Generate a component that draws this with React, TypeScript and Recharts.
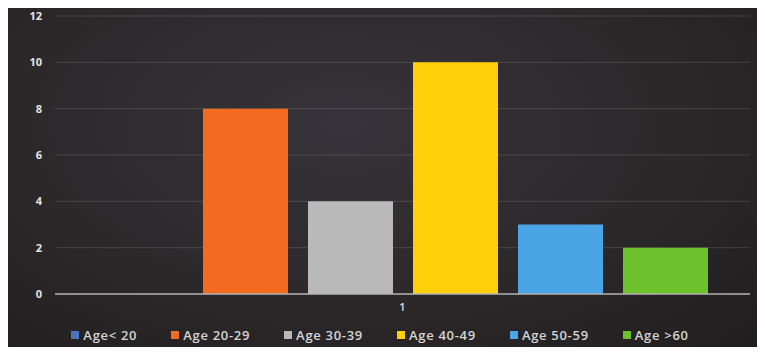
import { BarChart, Bar, XAxis, YAxis, CartesianGrid, Legend } from 'recharts'

const categories = ['1']
const seriesNames = ['Age< 20', 'Age 20-29', 'Age 30-39', 'Age 40-49', 'Age 50-59', 'Age >60']
const seriesValues = [0, 8, 4, 10, 3, 2]
const seriesColors = ['#4f74bf', '#f36b20', '#b9b9b9', '#ffcf0a', '#4ba4e6', '#6cc12c']
const yTicks = [0, 2, 4, 6, 8, 10, 12]

const data = categories.map((name) => {
  const row: Record<string, string | number> = { name }
  seriesNames.forEach((s, i) => {
    row[s] = seriesValues[i]
  })
  return row
})

function LegendRow() {
  return (
    <div
      style={{
        display: 'flex',
        justifyContent: 'center',
        gap: 34,
        height: 22,
        alignItems: 'center',
        fontSize: 13,
        letterSpacing: 0.7,
        color: '#d4d4d4',
        fontFamily: '"Open Sans", sans-serif',
        fontWeight: 600,
        paddingLeft: 10,
      }}
    >
      {seriesNames.map((s, i) => (
        <div key={s} style={{ display: 'flex', alignItems: 'center' }}>
          <span
            style={{
              width: 8,
              height: 8,
              background: seriesColors[i],
              display: 'inline-block',
              marginRight: 4,
            }}
          />
          <span>{s}</span>
        </div>
      ))}
    </div>
  )
}

export default function App() {
  return (
    <div
      style={{
        margin: -8,
        width: 765,
        height: 355,
        background:
          'radial-gradient(ellipse at 45% 35%, #36343a 0%, #2c282a 55%, #201d1e 100%)',
        boxShadow: 'inset 4px 2px 0 #e2e2e2',
      }}
    >
      <BarChart
        width={765}
        height={355}
        data={data}
        margin={{ top: 16, right: 15, left: 0, bottom: 9 }}
        barSize={85}
        barGap={20}
      >
        <CartesianGrid vertical={false} stroke="rgba(255,255,255,0.13)" />
        <XAxis
          dataKey="name"
          height={30}
          tickLine={false}
          tickSize={0}
          tickMargin={9}
          axisLine={{ stroke: '#b0b0b0', strokeWidth: 1.5 }}
          tick={{ fill: '#dcdcdc', fontSize: 11, fontWeight: 600, fontFamily: '"Open Sans", sans-serif' }}
        />
        <YAxis
          width={55}
          domain={[0, 12]}
          ticks={yTicks}
          axisLine={false}
          tickLine={false}
          tickSize={0}
          tickMargin={13}
          tick={{ fill: '#e4e4e4', fontSize: 11, fontWeight: 700, fontFamily: '"Open Sans", sans-serif' }}
        />
        <Legend verticalAlign="bottom" content={() => <LegendRow />} />
        {seriesNames.map((s, i) => (
          <Bar key={s} dataKey={s} fill={seriesColors[i]} isAnimationActive={false} />
        ))}
      </BarChart>
    </div>
  )
}
